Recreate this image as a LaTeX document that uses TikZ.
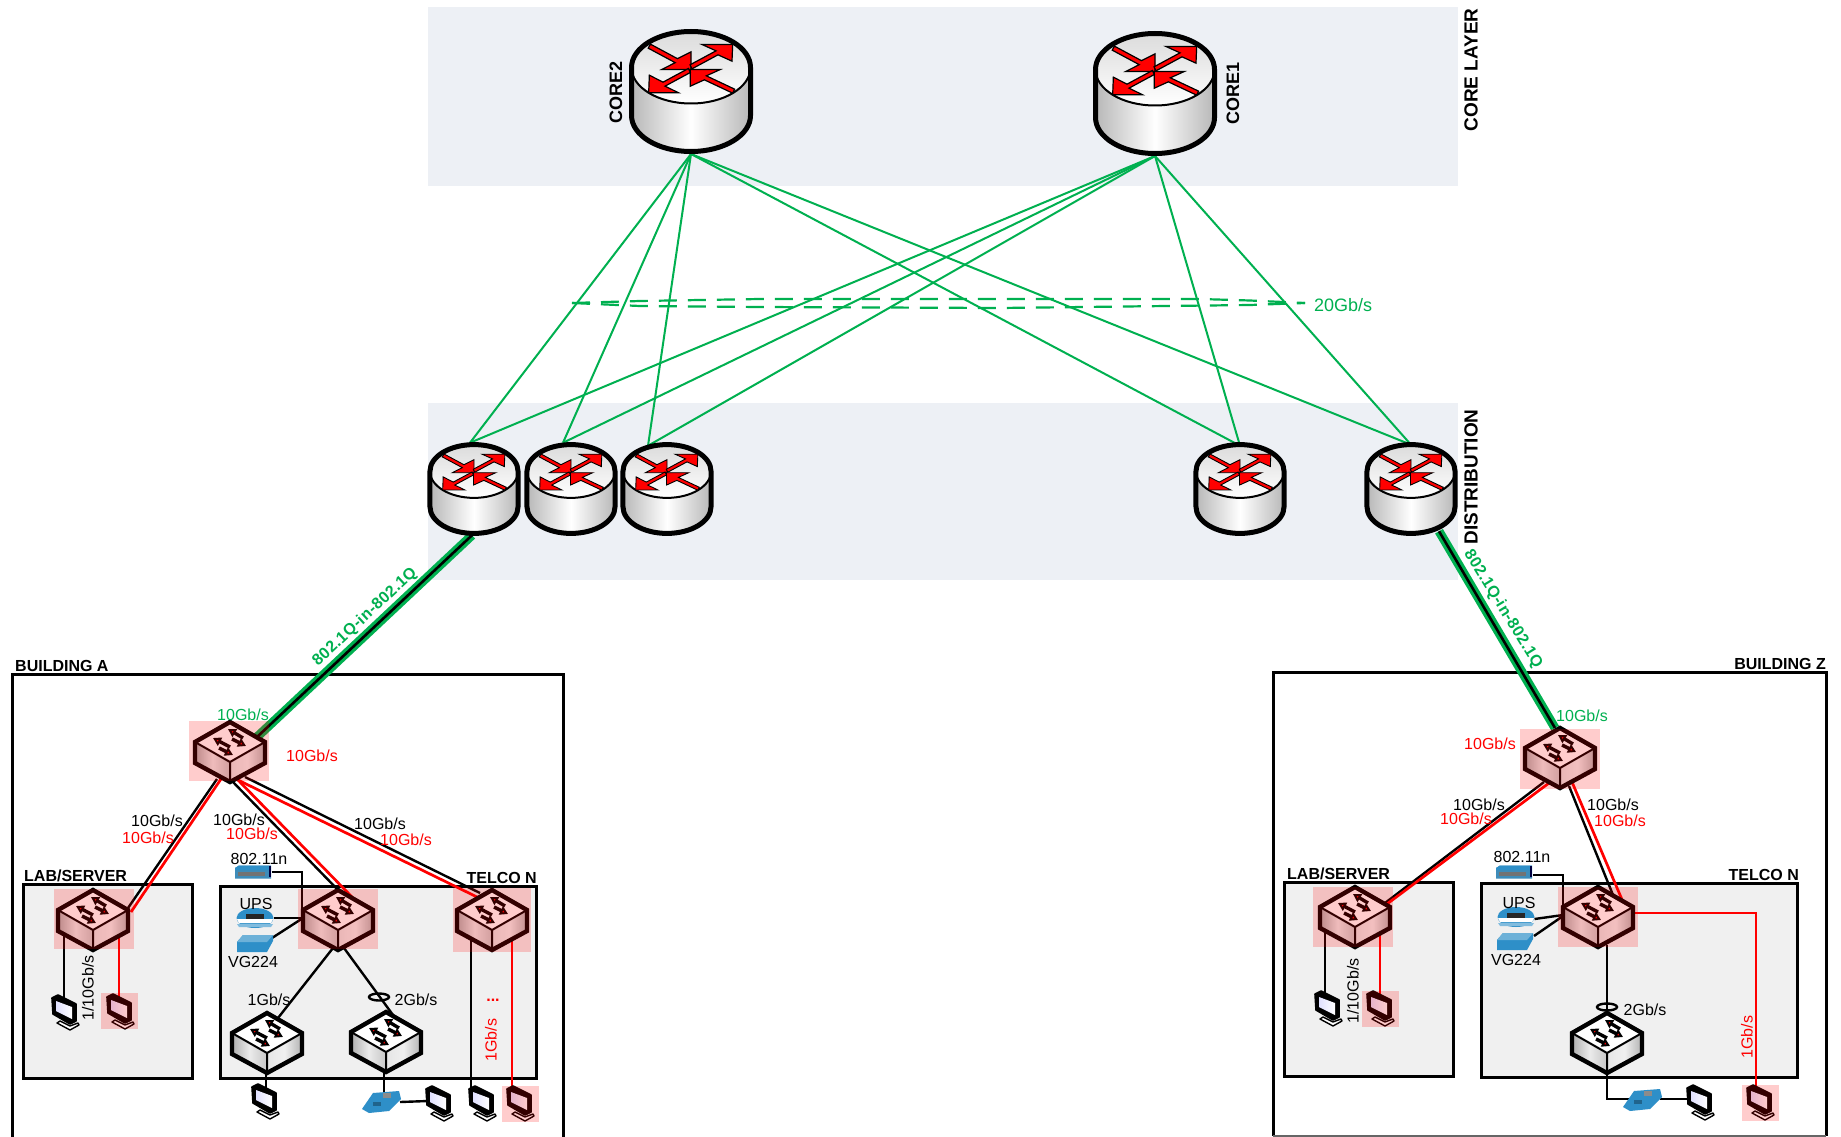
\documentclass[tikz,border=0pt]{standalone}
\usepackage{fontspec}
\setmainfont{Liberation Sans}
\newfontfamily\trunkfont{Liberation Sans}[LetterSpace=2.5]
\usetikzlibrary{arrows.meta,calc,shapes.geometric}
\pgfdeclarelayer{boxl}\pgfdeclarelayer{linkl}\pgfdeclarelayer{tintl}\pgfdeclarelayer{textl}
\pgfsetlayers{boxl,linkl,main,tintl,textl}
\definecolor{band}{HTML}{EDF0F5}
\definecolor{gbox}{HTML}{F0F0F0}
\definecolor{gline}{HTML}{00B050}
\definecolor{devblue}{HTML}{2E8FC8}
\tikzset{
  dev/.style={inner sep=0pt,outer sep=0pt},
  lbl/.style={font=\fontsize{16}{18}\selectfont,inner sep=0pt},
  lblr/.style={lbl,text=red},
  lblg/.style={lbl,text=gline},
  head/.style={font=\fontsize{16}{18}\selectfont\bfseries,inner sep=0pt},
  headbig/.style={font=\fontsize{19}{21}\selectfont\bfseries,inner sep=0pt},
  blk/.style={draw=black,line width=2.4pt,line join=miter},
  redl/.style={draw=red,line width=2.7pt,line join=miter},
  gthin/.style={draw=gline,line width=2pt},
  gdash/.style={draw=gline,line width=2.2pt,dash pattern=on 18pt off 11pt},
  gfat/.style={draw=gline,line width=9pt},
  gcore/.style={draw=black,line width=2.6pt},
  room/.style={draw=black,fill=gbox,line width=3pt},
  bldg/.style={draw=black,line width=3pt},
  tint/.style={fill=red,opacity=.2},
  oval/.style={draw=black,line width=2.4pt,ellipse,minimum width=20pt,minimum height=7pt,inner sep=0pt},
  rarrow/.style={fill=red,draw=black,line width=#1*1.2pt,line join=miter},
  swarrow/.style={line width=3.4pt,-{Triangle[length=8pt,width=9pt,line width=2pt,fill=red]}},
}
\newcommand{\RouterDev}[3]{% name, pos, scale
  \node[dev,minimum width=#3*124pt,minimum height=#3*125pt] (#1) at (#2) {};
  \begin{scope}[shift={(#2)},scale=#3]
    \shade[left color=black!28,right color=black!28,middle color=white]
      (-59.5,-24) -- (-59.5,24) arc[start angle=180,end angle=0,x radius=59.5,y radius=36] -- (59.5,-24) -- cycle;
    \shade[top color=black!14,bottom color=white] (0,-24) ellipse [x radius=59.5,y radius=36];
    \draw[line width=2pt] (59.5,-24) arc[start angle=0,end angle=180,x radius=59.5,y radius=36];
    \draw[line width=5pt,line join=round]
      (-59.5,-24) -- (-59.5,24) arc[start angle=180,end angle=0,x radius=59.5,y radius=36] -- (59.5,-24)
      arc[start angle=0,end angle=-180,x radius=59.5,y radius=36] -- cycle;
    \begin{scope}[shift={(0,-22)},scale=0.3333]
      \path[rarrow=#3] (0,0) -- (0,-53) -- (-40.6,-32.5) -- (-121.6,-76) -- (-128.4,-64) -- (-47.4,-20.5) -- (-88,0) -- cycle;
      \path[rarrow=#3] (-2,0) -- (88,0) -- (46,19) -- (131,59) -- (125,71) -- (40,31) -- (-2,50) -- cycle;
      \path[rarrow=#3] (125,-75) -- (33,-75) -- (75,-56) -- (-3,-14) -- (3,-2) -- (81,-44) -- (123,-25) -- cycle;
      \path[rarrow=#3] (-127,70) -- (-125,17) -- (-84,38) -- (-8,-3) -- (-2,9) -- (-78,50) -- (-37,70) -- cycle;
    \end{scope}
  \end{scope}}
\newcommand{\SwitchDev}[2]{% name, pos
  \node[dev,minimum width=70pt,minimum height=60pt] (#1) at (#2) {};
  \begin{scope}[shift={(#2)}]
    \shade[left color=black!32,right color=black!22,middle color=black!8] (-35,-10) -- (0,10) -- (0,30) -- (-35,11) -- cycle;
    \shade[left color=black!10,right color=black!30,middle color=black!6] (35,-10) -- (0,10) -- (0,30) -- (35,11) -- cycle;
    \fill[white] (0,-30) -- (35,-10) -- (0,10) -- (-35,-10) -- cycle;
    \draw[line width=2pt] (-35,-10) -- (0,10) -- (35,-10) (0,10) -- (0,30);
    \draw[swarrow] (13,-14) -- (-2,-23);
    \draw[swarrow] (0,-5) -- (-17,-14);
    \draw[swarrow] (2,-13) -- (16,-6);
    \draw[swarrow] (-11,-4) -- (3,3);
    \draw[line width=4.4pt,line join=miter] (0,-30) -- (35,-10) -- (35,11) -- (0,30) -- (-35,11) -- (-35,-10) -- cycle;
  \end{scope}}
\newcommand{\PcDev}[2]{% name, pos
  \node[dev,minimum width=28pt,minimum height=36pt] (#1) at (#2) {};
  \begin{scope}[shift={(#2)}]
    \draw[fill=white,line width=1.4pt,line join=round] (-8,10) -- (5,17) -- (14,12) -- (13,10) -- (5,13) -- (-5,8) -- cycle;
    \draw[fill=black,line width=1.6pt,line join=round] (-13,-15) -- (-7,-18) -- (11,-9) -- (11,8) -- (5,11) -- (-12,1) -- cycle;
    \shade[left color=blue!12,right color=white] (-9,-12) -- (7,-6) -- (7,6) -- (-9,-2) -- cycle;
  \end{scope}}
\newcommand{\ApDev}[2]{%
  \node[dev,minimum width=37pt,minimum height=13pt] (#1) at (#2) {};
  \begin{scope}[shift={(#2)}]
    \fill[devblue!80!gray] (-18,-4) -- (-14,-6.5) -- (18,-6.5) -- (18,6.5) -- (-18,6.5) -- cycle;
    \fill[devblue] (-18,-4) -- (-14,-6.5) -- (18,-6.5) -- (16,-2) -- (-18,-2) -- cycle;
    \fill[black!55] (-15,0) rectangle (12,4);
    \fill[black!75!blue] (16,-6.5) rectangle (18,5);
  \end{scope}}
\newcommand{\UpsDev}[2]{%
  \node[dev,minimum width=37pt,minimum height=20pt] (#1) at (#2) {};
  \begin{scope}[shift={(#2)}]
    \fill[devblue] (0,0) ellipse [x radius=18.5,y radius=10];
    \fill[white] (-18,1) -- (18,1) -- (16,5) -- (-16,5) -- cycle;
    \fill[black!85] (-9,-4) rectangle (9,1);
    \fill[devblue!60] (-18,6) -- (18,6) -- (16,9) -- (-16,9) -- cycle;
  \end{scope}}
\newcommand{\VgDev}[2]{%
  \node[dev,minimum width=37pt,minimum height=18pt] (#1) at (#2) {};
  \begin{scope}[shift={(#2)}]
    \fill[devblue] (-18,-2) -- (-12,-9) -- (18,-9) -- (18,-3) -- (12,8) -- (-18,8) -- cycle;
    \fill[devblue!70!white] (-18,-2) -- (-12,-9) -- (18,-9) -- (12,-2) -- cycle;
  \end{scope}}
\newcommand{\PhoneDev}[2]{%
  \node[dev,minimum width=38pt,minimum height=22pt] (#1) at (#2) {};
  \begin{scope}[shift={(#2)}]
    \fill[devblue] (-19,7) -- (-8,-9) -- (18,-11) -- (20,-3) -- (8,9) -- (-12,11) -- cycle;
    \fill[black!45] (2,-9) rectangle (10,-4);
    \fill[black!30!devblue] (-8,0) rectangle (0,4);
  \end{scope}}
\begin{document}
\begin{tikzpicture}[x=1pt,y=-1pt]
\useasboundingbox (0,0) rectangle (1841,1137);
\begin{pgfonlayer}{boxl}
  \fill[white] (0,0) rectangle (1841,1137);
  \fill[band] (428,7) rectangle (1458,186);
  \fill[band] (428,403) rectangle (1458,580);
  \draw[bldg] (12,1140) -- (12,674) -- (563,674) -- (563,1140);
  \draw[bldg] (1273,1136) -- (1273,672) -- (1826,672) -- (1826,1136);
  \draw[black!60,line width=2pt] (1273,1136) -- (1826,1136);
  \draw[room] (23,884) rectangle (192,1078);
  \draw[room] (220,886) rectangle (536,1078);
  \draw[room] (1284,882) rectangle (1453,1076);
  \draw[room] (1481,883) rectangle (1797,1077);
\end{pgfonlayer}

% devices
\RouterDev{core2}{691,91.5}{1}
\RouterDev{core1}{1155,93.5}{1}
\RouterDev{r1}{474,489}{.74}
\RouterDev{r2}{571,489}{.74}
\RouterDev{r3}{667,489}{.74}
\RouterDev{r4}{1240,489}{.74}
\RouterDev{r5}{1411,489}{.74}

\SwitchDev{swa}{230,752}
\SwitchDev{laba}{93,920}
\SwitchDev{tela}{338,920}
\SwitchDev{telna}{492,920}
\SwitchDev{wa}{267,1043}
\SwitchDev{wb}{386,1042}
\SwitchDev{swz}{1560,758}
\SwitchDev{labz}{1355,917}
\SwitchDev{telz}{1598,917}
\SwitchDev{wz}{1607,1043}

\PcDev{pca1}{65,1013}
\PcDev{pca2}{120,1012}
\PcDev{pca3}{265,1102}
\PcDev{pca4}{439,1104}
\PcDev{pca5}{482,1104}
\PcDev{pca6}{520,1104}
\PcDev{pcz1}{1328,1009}
\PcDev{pcz2}{1380,1009}
\PcDev{pcz3}{1700,1103}
\PcDev{pcz4}{1760,1103}

\ApDev{apa}{253,872}
\UpsDev{upsa}{255,918}
\VgDev{vga}{255,944}
\PhoneDev{pha}{381,1102}
\ApDev{apz}{1514,872}
\UpsDev{upsz}{1516,917}
\VgDev{vgz}{1515,942}
\PhoneDev{phz}{1642,1100}

\begin{pgfonlayer}{linkl}
  % core to distribution
  \foreach \c in {core2,core1}{
    \draw[gthin] (\c.south) -- ([xshift=-4pt]r1.north);
    \draw[gthin] (\c.south) -- ([xshift=-8pt]r2.north);
    \draw[gthin] (\c.south) -- ([xshift=-19pt,yshift=-3pt]r3.north);
    \draw[gthin] (\c.south) -- ([yshift=-3pt]r4.north);
    \draw[gthin] (\c.south) -- ([yshift=-2pt]r5.north);
  }
  \coordinate (dl) at (572,303);
  \coordinate (dr) at (1305,303);
  \coordinate (du1) at (640,301);
  \coordinate (du2) at (760,299);
  \coordinate (du3) at (1200,299);
  \coordinate (du4) at (1250,300.5);
  \coordinate (dd1) at (640,306);
  \coordinate (dd2) at (760,307);
  \coordinate (dd3) at (1000,308);
  \coordinate (dd4) at (1250,305);
  \draw[gdash] (dl) -- (du1) -- (du2) -- (du3) -- (du4) -- (dr);
  \draw[gdash] (dl) -- (dd1) -- (dd2) -- (dd3) -- (dd4) -- (dr);
  % trunks
  \draw[gfat] ([shift={(-2,0)}]r1.south) -- ([shift={(27,-15)}]swa.center);
  \draw[gcore] ([shift={(-2,0)}]r1.south) -- ([shift={(27,-15)}]swa.center);
  \draw[gfat] ([shift={(28,-4)}]r5.south) -- ([shift={(-5,0)}]swz.north);
  \draw[gcore] ([shift={(28,-4)}]r5.south) -- ([shift={(-5,0)}]swz.north);
  % building A uplinks
  \draw[blk] ([shift={(-13,27)}]swa.center) -- ([shift={(35,-12)}]laba.center);
  \draw[redl] ([shift={(-9,27)}]swa.center) -- ([shift={(38,-8)}]laba.center);
  \draw[blk] ([shift={(3,30)}]swa.center) -- ([shift={(2,-28)}]tela.center);
  \draw[redl] ([shift={(7,27)}]swa.center) -- ([shift={(14,-23)}]tela.center);
  \draw[blk] ([shift={(15,25)}]swa.center) -- ([shift={(-12,-27)}]telna.center);
  \draw[redl] ([shift={(8,28)}]swa.center) -- ([shift={(-15,-23)}]telna.center);
  % building A local
  \draw[blk] (apa.east) -| ([shift={(-36,-8)}]tela.center);
  \draw[blk] (upsa.east) -- ([shift={(-35,-2)}]tela.center);
  \draw[blk] ([shift={(17,-6)}]vga.center) -- ([shift={(-35,-2)}]tela.center);
  \draw[blk] ([shift={(-5,28)}]tela.center) -- ([shift={(11,-25)}]wa.center);
  \draw[blk] ([shift={(6,28)}]tela.center) -- ([shift={(7,-27)}]wb.center);
  \draw[blk] ([shift={(-1,0)}]wa.south) -- ([shift={(1,-12)}]pca3.center);
  \draw[blk] ([shift={(-2,0)}]wb.south) -- ([shift={(3,-7)}]pha.center);
  \draw[blk] (pha.east) -- ([shift={(-11,-3)}]pca4.center);
  \draw[blk] ([shift={(-21,20)}]telna.center) -- ([shift={(-11,-14)}]pca5.center);
  \draw[redl] ([shift={(20,20)}]telna.center) -- ([shift={(-8,-14)}]pca6.center);
  \draw[blk] ([shift={(-29,15)}]laba.center) -- ([shift={(-1,-12)}]pca1.center);
  \draw[redl] ([shift={(26,15)}]laba.center) -- ([shift={(-1,-12)}]pca2.center);
  % building Z uplinks
  \draw[blk] ([shift={(-16,24)}]swz.center) -- ([shift={(30,-14)}]labz.center);
  \draw[redl] ([shift={(-11,25)}]swz.center) -- ([shift={(32,-13)}]labz.center);
  \draw[blk] ([shift={(9,28)}]swz.center) -- ([shift={(17,-17)}]telz.center);
  \draw[redl] ([shift={(12,24)}]swz.center) -- ([shift={(25,-15)}]telz.center);
  % building Z local
  \draw[blk] ([yshift=-3pt]apz.east) -| ([shift={(-35,-2)}]telz.center);
  \draw[blk] ([yshift=-2pt]upsz.east) -- ([shift={(-35,-2)}]telz.center);
  \draw[blk] ([shift={(19,-6)}]vgz.center) -- ([shift={(-35,-1)}]telz.center);
  \draw[blk] ([shift={(9,28)}]telz.center) -- ([shift={(0,-28)}]wz.center);
  \draw[blk] (wz.south) |- ([shift={(-9,-1)}]phz.center);
  \draw[blk] ([shift={(18,-1)}]phz.center) -- ([shift={(-13,-4)}]pcz3.center);
  \draw[blk] ([shift={(-30,15)}]labz.center) -- ([shift={(-3,-12)}]pcz1.center);
  \draw[redl] ([shift={(25,15)}]labz.center) -- ([shift={(0,-12)}]pcz2.center);
  \draw[redl] ([shift={(35,-4)}]telz.center) -| ([shift={(-4,-14)}]pcz4.center);
\end{pgfonlayer}

\node[oval] (lagA) at (379,997) {};
\node[oval] (lagZ) at (1607,1007) {};

\begin{pgfonlayer}{tintl}
  \fill[tint] (189,721) rectangle (269,781);
  \fill[tint] (54,889) rectangle (134,949);
  \fill[tint] (298,889) rectangle (378,949);
  \fill[tint] (453,888) rectangle (531,952);
  \fill[tint] (101,993) rectangle (138,1029);
  \fill[tint] (502,1086) rectangle (539,1122);
  \fill[tint] (1520,729) rectangle (1600,789);
  \fill[tint] (1313,887) rectangle (1393,947);
  \fill[tint] (1558,887) rectangle (1638,947);
  \fill[tint] (1362,991) rectangle (1399,1027);
  \fill[tint] (1742,1085) rectangle (1779,1121);
\end{pgfonlayer}

\begin{pgfonlayer}{textl}
  \node[head,rotate=90,font=\fontsize{18}{20}\selectfont\bfseries] (t1) at (616,92) {CORE2};
  \node[head,rotate=90,font=\fontsize{18}{20}\selectfont\bfseries] (t2) at (1233,93) {CORE1};
  \node[headbig,rotate=90] (t3) at (1471,70) {CORE LAYER};
  \node[headbig,rotate=90] (t4) at (1471,477) {DISTRIBUTION};
  \node[head,anchor=base west] (t5) at (15,671) {BUILDING A};
  \node[head,anchor=base east] (t6) at (1826,669) {BUILDING Z};
  \node[head,anchor=base west] (t7) at (24,881) {LAB/SERVER};
  \node[head,anchor=base east] (t8) at (537,883) {TELCO N};
  \node[head,anchor=base west] (t9) at (1287,879) {LAB/SERVER};
  \node[head,anchor=base east] (t10) at (1799,880) {TELCO N};
  \node[lblg,font=\fontsize{18}{20}\selectfont] (g20) at (1343,305) {20Gb/s};
  \node[inner sep=0pt,text=gline,rotate=43,font=\fontsize{16}{18}\selectfont\trunkfont\bfseries] (ta) at (365,617) {802.1Q-in-802.1Q};
  \node[inner sep=0pt,text=gline,rotate=-58.5,font=\fontsize{16}{18}\selectfont\trunkfont\bfseries] (tz) at (1503,609) {802.1Q-in-802.1Q};
  \node[lblg] (l1) at (243,715) {10Gb/s};
  \node[lblr] (l2) at (312,756) {10Gb/s};
  \node[lbl] (l3) at (157,821) {10Gb/s};
  \node[lblr] (l4) at (148,838) {10Gb/s};
  \node[lbl] (l5) at (239,820) {10Gb/s};
  \node[lblr] (l6) at (252,834) {10Gb/s};
  \node[lbl] (l7) at (380,824) {10Gb/s};
  \node[lblr] (l8) at (406,840) {10Gb/s};
  \node[lbl] (l9) at (259,859) {802.11n};
  \node[lbl] (l10) at (256,904) {UPS};
  \node[lbl] (l11) at (253,962) {VG224};
  \node[lbl] (l12) at (269,1000) {1Gb/s};
  \node[lbl] (l13) at (416,1000) {2Gb/s};
  \node[lblr,rotate=90] (l14) at (491,1040) {1Gb/s};
  \node[lblr,font=\fontsize{16}{18}\selectfont\bfseries] (l15) at (493,1000) {...};
  \node[lbl,rotate=90] (l16) at (88,988) {1/10Gb/s};
  \node[lblg] (z1) at (1582,716) {10Gb/s};
  \node[lblr] (z2) at (1490,744) {10Gb/s};
  \node[lbl] (z3) at (1479,805) {10Gb/s};
  \node[lblr] (z4) at (1466,819) {10Gb/s};
  \node[lbl] (z5) at (1613,805) {10Gb/s};
  \node[lblr] (z6) at (1620,821) {10Gb/s};
  \node[lbl] (z7) at (1522,857) {802.11n};
  \node[lbl] (z8) at (1519,903) {UPS};
  \node[lbl] (z9) at (1516,960) {VG224};
  \node[lbl] (z10) at (1645,1010) {2Gb/s};
  \node[lblr,rotate=90] (z11) at (1747,1037) {1Gb/s};
  \node[lbl,rotate=90] (z12) at (1353,991) {1/10Gb/s};
\end{pgfonlayer}
\end{tikzpicture}
\end{document}
